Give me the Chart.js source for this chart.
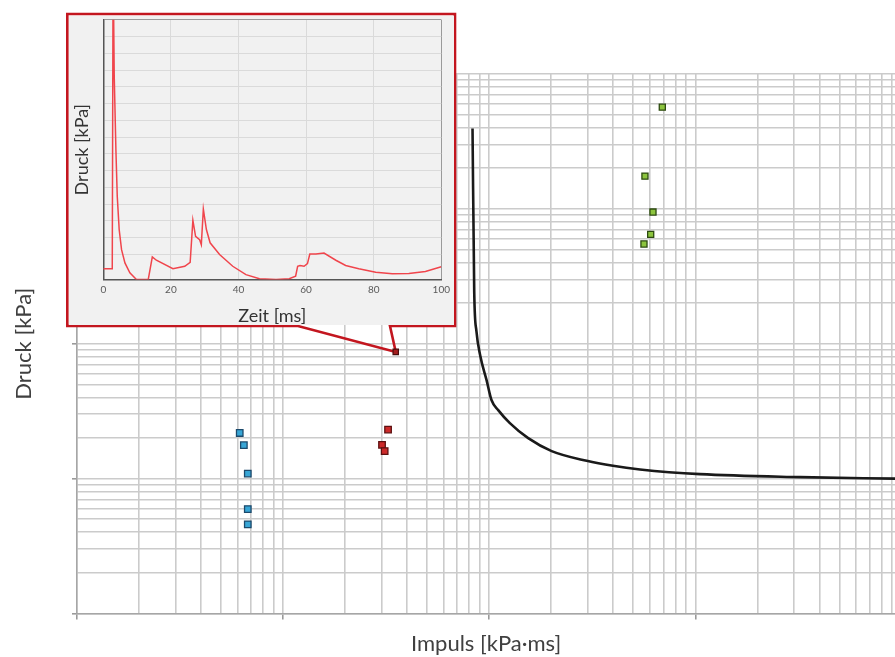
<!DOCTYPE html>
<html>
<head>
<meta charset="utf-8">
<script src="https://cdn.jsdelivr.net/npm/chart.js@4.4.1/dist/chart.umd.min.js"></script>
<style>
  html, body { margin: 0; padding: 0; background: #fff; }
  #wrap { position: relative; width: 895px; height: 657px; overflow: hidden; }
  #main { position: absolute; left: 0; top: 0; }
  #inset { position: absolute; left: 69px; top: 15.5px; width: 385px; height: 309px; background: #f1f1f1; }
  #inset canvas { display: block; }
</style>
</head>
<body>
<div id="wrap">
  <canvas id="main" width="901" height="657"></canvas>
  <div id="inset"><canvas id="insetChart" width="385" height="309"></canvas></div>
</div>
<script>
// P-I diagram: Impuls [kPa·ms] (x) vs Druck [kPa] (y), both log
const curveImpulse  = [830, 846, 867, 906, 971, 1027, 1106, 1260, 1546, 2009, 2971, 3986, 5390, 10540, 32240, 93200];
const curvePressure = [3950, 241, 124, 80.8, 53.7, 38.1, 32.2, 25.8, 19.95, 16.0, 13.55, 12.44, 11.7, 10.8, 10.26, 10.0];

const blueImpulse  = [61.6, 64.5, 67.4, 67.4, 67.4];
const bluePressure = [21.8, 17.7, 10.9, 5.95, 4.58];

const redImpulse  = [323, 302, 311];
const redPressure = [23.1, 17.8, 16.0];

// point the inset trace belongs to
const markedImpulse  = [352];
const markedPressure = [87];

const greenImpulse  = [6917, 5698, 6232, 6074, 5636];
const greenPressure = [5675, 1750, 947, 647, 549];

// log grid: 1..9 per decade
const gridMultipliers = [1, 2, 3, 4, 5, 6, 7, 8, 9];
const xDecades = [10, 100, 1000, 10000];
const yDecades = [1, 10, 100, 1000, 10000];
const xMin = 10, xMax = 93200;
const yMin = 1, yMax = 10000;

// inset: pressure-time trace of the marked point
const traceTime = [0, 2.65, 2.9, 3.24, 3.73, 4.13, 4.7, 5.4, 6.4, 7.86, 9.8, 10.8, 13.3, 14.5, 15.7, 20.6, 24.1, 25.7, 26.5, 27.3, 28.5, 29, 29.6, 30.5, 31.6, 34.4, 38.3, 42.2, 46.2, 51.1, 55, 56.9, 57.5, 58.2, 59.4, 60.4, 61.1, 62.9, 65.3, 68.8, 71.7, 75.6, 80.6, 85.5, 90.4, 95.3, 100];
const tracePressure = [1.4, 1.4, 185, 115.9, 72.3, 44.6, 24.8, 12.8, 4.9, -1.0, -5, -5, -5, 8.5, 6.5, 1.4, 2.9, 5.2, 30.3, 20.7, 18.7, 15.8, 37, 24.8, 16.9, 9.9, 2.9, -2.1, -4.5, -5, -4.5, -3, 2.9, 3.4, 2.9, 4.5, 10.2, 10.2, 10.8, 6.5, 3.4, 1.4, -0.7, -1.6, -1.4, -0.2, 2.6];
const timeTicks = [0, 20, 40, 60, 80, 100];

function pairs(xs, ys) {
  return xs.map((x, i) => ({ x: x, y: ys[i] }));
}

function logGrid(decades, min, max) {
  const out = [];
  decades.forEach(d => gridMultipliers.forEach(m => {
    const v = d * m;
    if (v >= min && v <= max) out.push(v);
  }));
  return out;
}

function isMajor(v) {
  const l = Math.log10(v);
  return Math.abs(l - Math.round(l)) < 1e-9;
}

const box = { left: 67.3, top: 14, right: 455, bottom: 326, legLeft: 298, legRight: 390 };

const calloutPlugin = {
  id: 'callout',
  beforeDatasetsDraw(chart) {
    const tip = chart.getDatasetMeta(3).data[0];
    const ctx = chart.ctx;
    ctx.save();
    ctx.strokeStyle = '#c3161f';
    ctx.lineWidth = 2.6;
    ctx.lineJoin = 'miter';
    ctx.beginPath();
    ctx.moveTo(box.legRight, box.bottom);
    ctx.lineTo(box.right, box.bottom);
    ctx.lineTo(box.right, box.top);
    ctx.lineTo(box.left, box.top);
    ctx.lineTo(box.left, box.bottom);
    ctx.lineTo(box.legLeft, box.bottom);
    ctx.lineTo(tip.x, tip.y);
    ctx.closePath();
    ctx.stroke();
    ctx.restore();
  }
};

const axisFont = { family: 'Lato', size: 22 };

new Chart(document.getElementById('main'), {
  type: 'scatter',
  data: {
    datasets: [
      {
        data: pairs(curveImpulse, curvePressure),
        showLine: true,
        borderColor: '#1a1a1a',
        borderWidth: 2.6,
        pointRadius: 0,
        cubicInterpolationMode: 'monotone'
      },
      {
        data: pairs(blueImpulse, bluePressure),
        pointStyle: 'rect', pointRadius: 4.6, borderWidth: 1.3,
        backgroundColor: '#38a6d6', borderColor: '#1c4a6c'
      },
      {
        data: pairs(redImpulse, redPressure),
        pointStyle: 'rect', pointRadius: 4.6, borderWidth: 1.3,
        backgroundColor: '#cc2a2a', borderColor: '#5c1010'
      },
      {
        data: pairs(markedImpulse, markedPressure),
        pointStyle: 'rect', pointRadius: 3.8, borderWidth: 1.2,
        backgroundColor: '#a31e1e', borderColor: '#4a0c0c'
      },
      {
        data: pairs(greenImpulse, greenPressure),
        pointStyle: 'rect', pointRadius: 4.3, borderWidth: 1.3,
        backgroundColor: '#8cc43e', borderColor: '#2c4a10'
      }
    ]
  },
  options: {
    responsive: false,
    animation: false,
    events: [],
    layout: { padding: { top: 74, right: 0, bottom: 0, left: 0 } },
    plugins: { legend: { display: false }, tooltip: { enabled: false } },
    scales: {
      x: {
        type: 'logarithmic',
        min: xMin, max: xMax,
        afterBuildTicks: s => { s.ticks = logGrid(xDecades, xMin, xMax).map(v => ({ value: v, major: isMajor(v) })); },
        ticks: { display: false },
        grid: {
          color: '#cbcbcb', lineWidth: 1.6, tickLength: 6,
          tickColor: c => (c.tick && isMajor(c.tick.value)) ? '#9a9a9a' : 'rgba(0,0,0,0)'
        },
        border: { color: '#a6a6a6', width: 1.5 },
        title: { display: true, text: 'Impuls [kPa·ms]', color: '#404040', font: axisFont, padding: { top: 11.1, bottom: 0 } }
      },
      y: {
        type: 'logarithmic',
        min: yMin, max: yMax,
        afterBuildTicks: s => { s.ticks = logGrid(yDecades, yMin, yMax).map(v => ({ value: v, major: isMajor(v) })); },
        ticks: { display: false },
        grid: {
          color: '#cbcbcb', lineWidth: 1.6, tickLength: 5,
          tickColor: c => (c.tick && isMajor(c.tick.value)) ? '#9a9a9a' : 'rgba(0,0,0,0)'
        },
        border: { color: '#a6a6a6', width: 1.5 },
        title: { display: true, text: 'Druck [kPa]', color: '#404040', font: axisFont, padding: { top: 10.8, bottom: 34.8 } }
      }
    }
  },
  plugins: [calloutPlugin]
});

new Chart(document.getElementById('insetChart'), {
  type: 'scatter',
  data: {
    datasets: [{
      data: pairs(traceTime, tracePressure),
      showLine: true,
      borderColor: '#f0454c',
      borderWidth: 1.5,
      pointRadius: 0
    }]
  },
  options: {
    responsive: false,
    animation: false,
    events: [],
    layout: { padding: { top: 3.8, right: 11.3, bottom: 0, left: 0 } },
    plugins: { legend: { display: false }, tooltip: { enabled: false } },
    scales: {
      x: {
        type: 'linear', min: 0, max: 100,
        afterBuildTicks: s => { s.ticks = timeTicks.map(v => ({ value: v })); },
        ticks: { padding: 4, maxRotation: 0, color: '#595959', font: { family: 'Lato', size: 10 } },
        grid: { drawTicks: false, color: c => (c.tick && c.tick.value === 100) ? '#9a9a9a' : '#dadada', lineWidth: 1 },
        border: { color: '#555555', width: 1.5 },
        title: { display: true, text: 'Zeit [ms]', color: '#333333', font: { family: 'Lato', size: 18, lineHeight: 1 }, padding: { top: 7.5, bottom: 0 } }
      },
      y: {
        type: 'linear', min: -5, max: 150,
        ticks: { display: false, stepSize: 10 },
        grid: { drawTicks: false, color: c => (c.tick && c.tick.value === 150) ? '#9a9a9a' : '#dadada', lineWidth: 1 },
        border: { color: '#555555', width: 1.5 },
        title: { display: true, text: 'Druck [kPa]', color: '#333333', font: { family: 'Lato', size: 18 }, padding: { top: 1.9, bottom: 10.8 } }
      }
    }
  }
});
</script>
</body>
</html>
